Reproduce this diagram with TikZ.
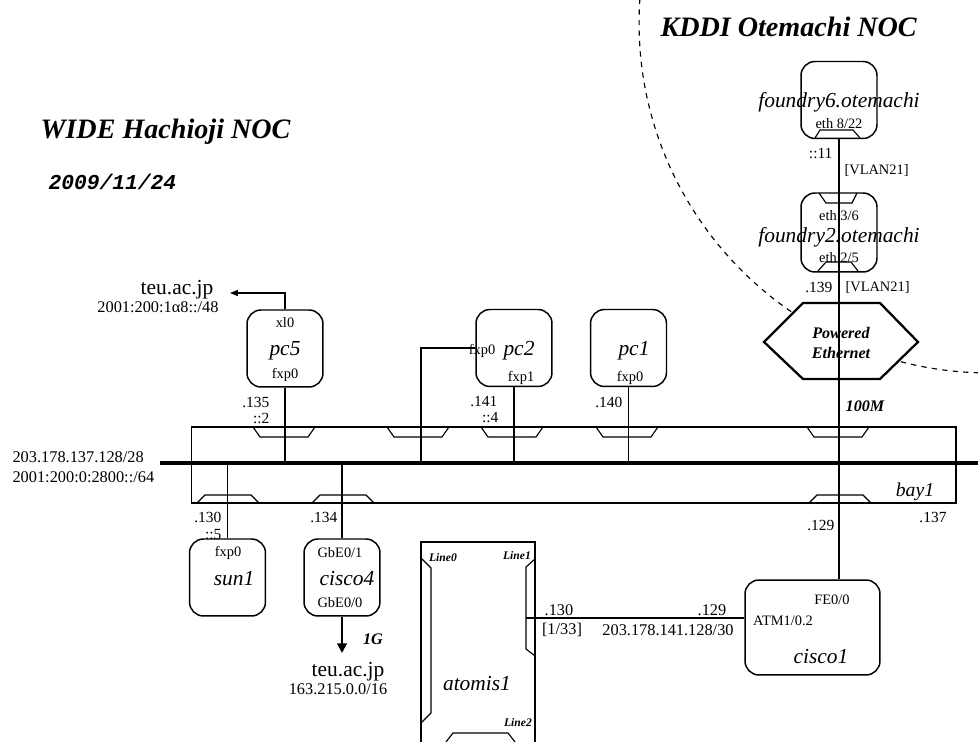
\documentclass[tikz,border=0pt]{standalone}
\usepackage{fontspec}
\setmainfont{Liberation Serif}
\newfontfamily\datefont{Liberation Mono}
\usetikzlibrary{arrows.meta}

\begin{document}
\begin{tikzpicture}[x=0.02cm, y=-0.02cm, line width=0.65pt]

    % Styles for boxes and text nodes
    \tikzset{
      lbl/.style={inner sep=0pt, font=\fontsize{8.8}{10}\selectfont},
      net/.style={inner sep=0pt, font=\fontsize{9.3}{10}\selectfont},
      ifc/.style={inner sep=0pt, font=\fontsize{8.2}{9}\selectfont},
      host/.style={inner sep=0pt, font=\fontsize{12.2}{13}\selectfont\itshape},
      boldlbl/.style={inner sep=0pt, font=\fontsize{9.2}{11.3}\selectfont\bfseries\itshape},
      linelbl/.style={inner sep=0pt, font=\fontsize{6.6}{7}\selectfont\bfseries\itshape},
      title/.style={inner sep=0pt, font=\fontsize{16}{18}\selectfont\bfseries\itshape},
      hostbox/.style={draw, line width=0.85pt, rounded corners=0.28cm,
        minimum width=1.52cm, minimum height=1.54cm, inner sep=0pt},
      segment/.style={line width=2.3pt},
    }

    \useasboundingbox (0,0) rectangle (978,742);
    \clip (0,0) rectangle (978,742);

    % --- Titles ---
    \node[title, anchor=west] (kddi) at (660,27) {KDDI Otemachi NOC};
    \node[title, anchor=west] (wide) at (40,132) {WIDE Hachioji NOC};
    \node[inner sep=0pt, anchor=west, font=\datefont\fontsize{12.1}{13}\selectfont\bfseries\itshape]
      (date) at (48,182) {2009/11/24};

    % --- NOC border (dashed arc) ---
    \draw[dash pattern=on 3pt off 3pt] (989,23) circle[radius=7cm];

    % --- Powered Ethernet ---
    \draw[line width=1.3pt, fill=white]
      (764,342) -- (803,303) -- (880,303) -- (918,342) -- (880,379) -- (803,379) -- cycle;

    % --- Hosts ---
    \node[hostbox] (f6) at (839,100) {};
    \node[hostbox, minimum height=1.58cm] (f2) at (839,232.5) {};
    \node[hostbox] (pc5) at (285,348.5) {};
    \node[hostbox] (pc2) at (514,348) {};
    \node[hostbox] (pc1) at (628.5,348) {};
    \node[hostbox] (sun1) at (227.5,577.5) {};
    \node[hostbox] (cisco4) at (342,577.5) {};
    \node[hostbox, minimum width=2.7cm, minimum height=1.9cm] (cisco1) at (812.5,627.5) {};
    \node[draw, line width=0.85pt, minimum width=2.28cm, minimum height=4.06cm, inner sep=0pt]
      (atomis) at (478,643.5) {};

    % --- bay1 ---
    \node[draw, minimum width=15.3cm, minimum height=1.52cm, inner sep=0pt] (bay1) at (573.5,465) {};
    \coordinate (segw) at (160,463);
    \coordinate (sege) at (978,463);
    \draw[segment] (segw) -- (sege);

    % Ports (top and bottom of bay1)
    \foreach \xp in {284,418,512,627,838}
      \draw (\xp-31,427) -- ++(7,10) -- ++(48,0) -- ++(7,-10);
    \foreach \xp in {228,343,840}
      \draw (\xp-31,503) -- ++(8,-8) -- ++(46,0) -- ++(8,8);

    % Ports on foundry boxes and atomis1
    \draw (815,138) -- (820,130) -- (853,130) -- (860,138);
    \draw (819,193) -- (826,203) -- (852,203) -- (857,193);
    \draw (818,271) -- (826,262) -- (851,262) -- (858,271);
    \draw (421,558) -- (431,568) -- (431,713) -- (421,723);
    \draw (535,559) -- (526,567) -- (526,649) -- (535,656);
    \draw (446,742) -- (453,733) -- (508,733) -- (515,742);

    % --- Links ---
    \coordinate (tap2) at (421,463);
    \coordinate (atm) at (526,618);
    \coordinate (teuup) at (230,293);
    \coordinate (teudown) at (342,653);

    \draw (f6.south) -- (f6.south |- cisco1.north);
    \draw (pc5.south) -- (pc5.south |- segw);
    \draw (pc2.south) -- (pc2.south |- segw);
    \draw (pc2.west) -| (tap2);
    \draw (pc1.south) -- (pc1.south |- segw);
    \draw (sun1.north) -- (sun1.north |- segw);
    \draw (cisco4.north) -- (cisco4.north |- segw);
    \draw (atm) -- (atm -| cisco1.west);
    \draw[-{Triangle[length=4.5pt, width=3.5pt]}] (pc5.north) |- (teuup);
    \draw[line width=1.2pt, -{Triangle[length=5.5pt, width=5.5pt]}] (cisco4.south) -- (teudown);

    % --- Host labels ---
    \node[boldlbl, align=center] (pe) at (841,343) {Powered\\Ethernet};
    \node[host] (f6name) at (839,102) {foundry6.otemachi};
    \node[ifc] (f6eth) at (839,124) {eth 8/22};
    \node[ifc] (f2up) at (839,216) {eth 3/6};
    \node[host] (f2name) at (839,237) {foundry2.otemachi};
    \node[ifc] (f2dn) at (839,258) {eth 2/5};

    \node[ifc] (pc5up) at (285,323) {xl0};
    \node[host] (pc5name) at (285,351) {pc5};
    \node[ifc] (pc5dn) at (285,375) {fxp0};
    \node[ifc] (pc2left) at (482,351) {fxp0};
    \node[host] (pc2name) at (519,351) {pc2};
    \node[ifc] (pc2dn) at (521,378) {fxp1};
    \node[host] (pc1name) at (634,351) {pc1};
    \node[ifc] (pc1dn) at (630,378) {fxp0};

    \node[ifc] (sun1up) at (228,553) {fxp0};
    \node[host] (sun1name) at (234,579) {sun1};
    \node[ifc] (c4up) at (340,553) {GbE0/1};
    \node[host] (c4name) at (347,579) {cisco4};
    \node[ifc] (c4dn) at (340,603) {GbE0/0};

    \node[ifc] (c1fe) at (832,600) {FE0/0};
    \node[ifc] (c1atm) at (783,621) {ATM1/0.2};
    \node[host] (c1name) at (821,657) {cisco1};

    \node[host] (atname) at (477,684) {atomis1};
    \node[linelbl] (line0) at (443,558) {Line0};
    \node[linelbl] (line1) at (517,556) {Line1};
    \node[linelbl] (line2) at (518,723) {Line2};

    \node[host, font=\fontsize{11.2}{12}\selectfont\itshape] (bayname) at (915,492) {bay1};

    % --- Addresses ---
    \node[lbl, anchor=east] at (833,154) {::11};
    \node[ifc, anchor=west] at (844,170) {[VLAN21]};
    \node[lbl, anchor=east] at (833,287) {.139};
    \node[ifc, anchor=west] at (845,287) {[VLAN21]};
    \node[boldlbl] at (865,406) {100M};

    \node[host, font=\fontsize{12.2}{13}\selectfont] (teu1) at (177,290) {teu.ac.jp};
    \node[net] at (158,307) {2001:200:1α8::/48};
    \node[lbl, anchor=east] at (270,402) {.135};
    \node[lbl, anchor=east] at (270,418) {::2};
    \node[lbl, anchor=east] at (498,402) {.141};
    \node[lbl, anchor=east] at (499,418) {::4};
    \node[lbl, anchor=east] at (623,402) {.140};

    \node[net, anchor=west] at (12,457) {203.178.137.128/28};
    \node[net, anchor=west] at (12,477) {2001:200:0:2800::/64};
    \node[lbl, anchor=east] at (222,517) {.130};
    \node[lbl, anchor=east] at (222,535) {::5};
    \node[lbl, anchor=east] at (338,517) {.134};
    \node[lbl, anchor=east] at (835,525) {.129};
    \node[lbl] at (933,517) {.137};

    \node[boldlbl] at (373,639) {1G};
    \node[host, font=\fontsize{12.2}{13}\selectfont] (teu2) at (348,672) {teu.ac.jp};
    \node[net] at (338,689) {163.215.0.0/16};

    \node[net] at (559,610) {.130};
    \node[net] at (562,630) {[1/33]};
    \node[net] at (712,610) {.129};
    \node[net] at (668,630) {203.178.141.128/30};
\end{tikzpicture}
\end{document}
